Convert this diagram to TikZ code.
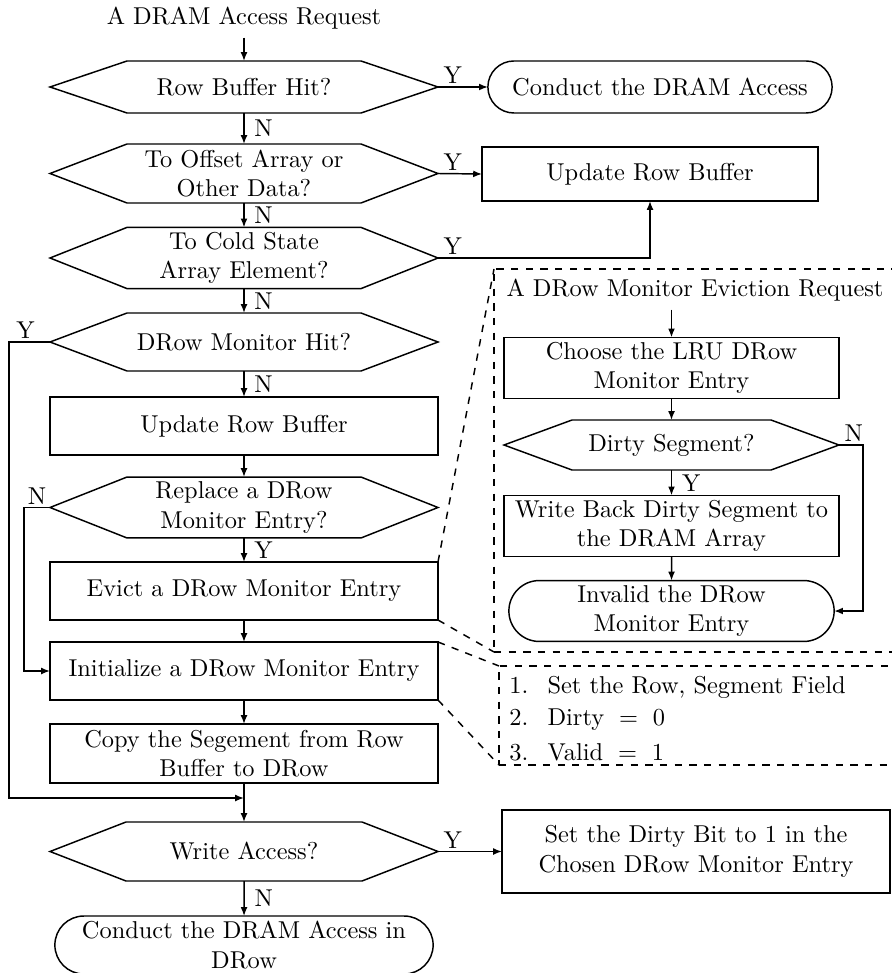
\documentclass[tikz,border=0pt]{standalone}
\usetikzlibrary{shapes.misc,arrows.meta,calc}
% one drawing unit = 0.41pt
\newcommand\pxu{0.41pt}
% hexagonal outline round a (borderless) decision node: #1 name, #2 chamfer width
\newcommand\hexoutline[2]{%
  \draw[line] (#1.west) -- ([xshift=#2*\pxu]#1.north west)
    -- ([xshift=-#2*\pxu]#1.north east) -- (#1.east)
    -- ([xshift=-#2*\pxu]#1.south east) -- ([xshift=#2*\pxu]#1.south west) -- cycle;}
\tikzset{
  line/.style={line width=0.6pt},
  arr/.style={line, -{Latex[length=3.6pt,width=2.8pt]}},
  procbox/.style={draw, line, rectangle, align=center, inner sep=2pt, outer sep=0pt},
  decide/.style={rectangle, align=center, inner sep=2pt, outer sep=0pt},
  term/.style={draw, line, rounded rectangle, align=center, inner sep=2pt, outer sep=0pt},
  zoomframe/.style={draw, line, dashed, rectangle, outer sep=0pt},
  lbly/.style={anchor=south west, inner sep=1pt, xshift=1pt},
  lblr/.style={anchor=west, inner sep=0pt, xshift=4pt},
  lbll/.style={anchor=south, inner sep=1pt},
}
\begin{document}
\begin{tikzpicture}[x=0.41pt, y=-0.41pt]
\useasboundingbox (0,0) rectangle (891,973);

% ---- main flow ----
\node (req) at (244,18) {A DRAM Access Request};
\node[decide, minimum width=388*\pxu, minimum height=52*\pxu] (rbh) at (244,87) {Row Buffer Hit?};
\node[decide, minimum width=388*\pxu, minimum height=59*\pxu] (off) at (244,173.5) {To Offset Array or\\Other Data?};
\node[decide, minimum width=388*\pxu, minimum height=58*\pxu] (cold) at (244,258) {To Cold State\\Array Element?};
\node[decide, minimum width=388*\pxu, minimum height=58*\pxu] (mon) at (244,342) {DRow Monitor Hit?};
\node[procbox, minimum width=388*\pxu, minimum height=58*\pxu] (upd) at (244,426) {Update Row Buffer};
\node[decide, minimum width=388*\pxu, minimum height=59*\pxu] (rep) at (244,507.5) {Replace a DRow\\Monitor Entry?};
\node[procbox, minimum width=388*\pxu, minimum height=58*\pxu] (evict) at (244,591) {Evict a DRow Monitor Entry};
\node[procbox, minimum width=388*\pxu, minimum height=58*\pxu] (init) at (244,671) {Initialize a DRow Monitor Entry};
\node[procbox, minimum width=388*\pxu, minimum height=59*\pxu] (copy) at (244,753.5) {Copy the Segement from Row\\Buffer to DRow};
\node[decide, minimum width=388*\pxu, minimum height=59*\pxu] (wr) at (244,851.5) {Write Access?};
\node[term, minimum width=388*\pxu, minimum height=58*\pxu] (fin) at (244,945) {Conduct the DRAM Access in\\DRow};

\node[term, minimum width=354*\pxu, minimum height=52*\pxu] (acc) at (660,87) {Conduct the DRAM Access};
\node[procbox, minimum width=336*\pxu, minimum height=54*\pxu] (upd2) at (650,174) {Update Row Buffer};
\node[procbox, minimum width=388*\pxu, minimum height=83*\pxu] (setd) at (696,851.5) {Set the Dirty Bit to 1 in the\\Chosen DRow Monitor Entry};

\hexoutline{rbh}{77}
\hexoutline{off}{77}
\hexoutline{cold}{77}
\hexoutline{mon}{77}
\hexoutline{rep}{77}
\hexoutline{wr}{76}

\coordinate (yleft) at (9,342);
\coordinate (nleft) at (24,507.5);
\coordinate (merge) at (244,798);

\draw[arr] (req) -- (rbh);
\draw[arr] (rbh) -- node[lblr]{N} (off);
\draw[arr] (off) -- node[lblr]{N} (cold);
\draw[arr] (cold) -- node[lblr]{N} (mon);
\draw[arr] (mon) -- node[lblr]{N} (upd);
\draw[arr] (upd) -- (rep);
\draw[arr] (rep) -- node[lblr]{Y} (evict);
\draw[arr] (evict) -- (init);
\draw[arr] (init) -- (copy);
\draw[arr] (copy) -- (wr);
\draw[arr] (wr) -- node[lblr]{N} (fin);

\draw[arr] (rbh.east) -- node[lbly, pos=0]{Y} (acc.west);
\draw[arr] (off.east) -- node[lbly, pos=0]{Y} (upd2.west);
\draw[arr] (cold.east) -| node[lbly, pos=0]{Y} (upd2.south);
\draw[arr] (wr.east) -- node[lbly, pos=0]{Y} (setd.west);
\draw[arr] (mon.west) -- node[lbll, pos=0.6]{Y} (yleft) |- (merge);
\draw[arr] (rep.west) -- node[lbll, pos=0.5]{N} (nleft) |- (init.west);

% ---- eviction detail ----
\node[zoomframe, minimum width=406*\pxu, minimum height=383*\pxu] (evbox) at (697,460.5) {};
\node (ereq) at (695,290) {A DRow Monitor Eviction Request};
\node[procbox, minimum width=335*\pxu, minimum height=58*\pxu] (choose) at (671.5,368) {Choose the LRU DRow\\Monitor Entry};
\node[decide, minimum width=335*\pxu, minimum height=50*\pxu] (dirty) at (671.5,445) {Dirty Segment?};
\node[procbox, minimum width=335*\pxu, minimum height=58*\pxu] (wb) at (671.5,526) {Write Back Dirty Segment to\\the DRAM Array};
\node[term, minimum width=335*\pxu, minimum height=58*\pxu] (inval) at (671.5,611) {Invalid the DRow\\Monitor Entry};
\hexoutline{dirty}{68}
\coordinate (nright) at (863,445);

\draw[arr] (ereq.south -| choose.north) -- (choose);
\draw[arr] (choose) -- (dirty);
\draw[arr] (dirty) -- node[lblr]{Y} (wb);
\draw[arr] (wb) -- (inval);
\draw[arr] (dirty.east) -- node[lbly, pos=0]{N} (nright) |- (inval.east);

% ---- initialisation detail ----
\node[zoomframe, minimum width=401*\pxu, minimum height=99*\pxu] (initbox) at (699.5,715.5) {};
\node[anchor=west, inner sep=0pt] (it1) at (509,687) {\makebox[15.6pt][l]{1.}Set the Row, Segment Field};
\node[anchor=west, inner sep=0pt] (it2) at (509,720) {\makebox[15.6pt][l]{2.}Dirty $\;=\;$ 0};
\node[anchor=west, inner sep=0pt] (it3) at (509,752) {\makebox[15.6pt][l]{3.}Valid $\;=\;$ 1};

% ---- zoom connectors ----
\draw[line, dashed] (evict.north east) -- (evbox.north west);
\draw[line, dashed] (evict.south east) -- (evbox.south west);
\draw[line, dashed] (init.north east) -- (initbox.north west);
\draw[line, dashed] (init.south east) -- (initbox.south west);
\end{tikzpicture}
\end{document}
